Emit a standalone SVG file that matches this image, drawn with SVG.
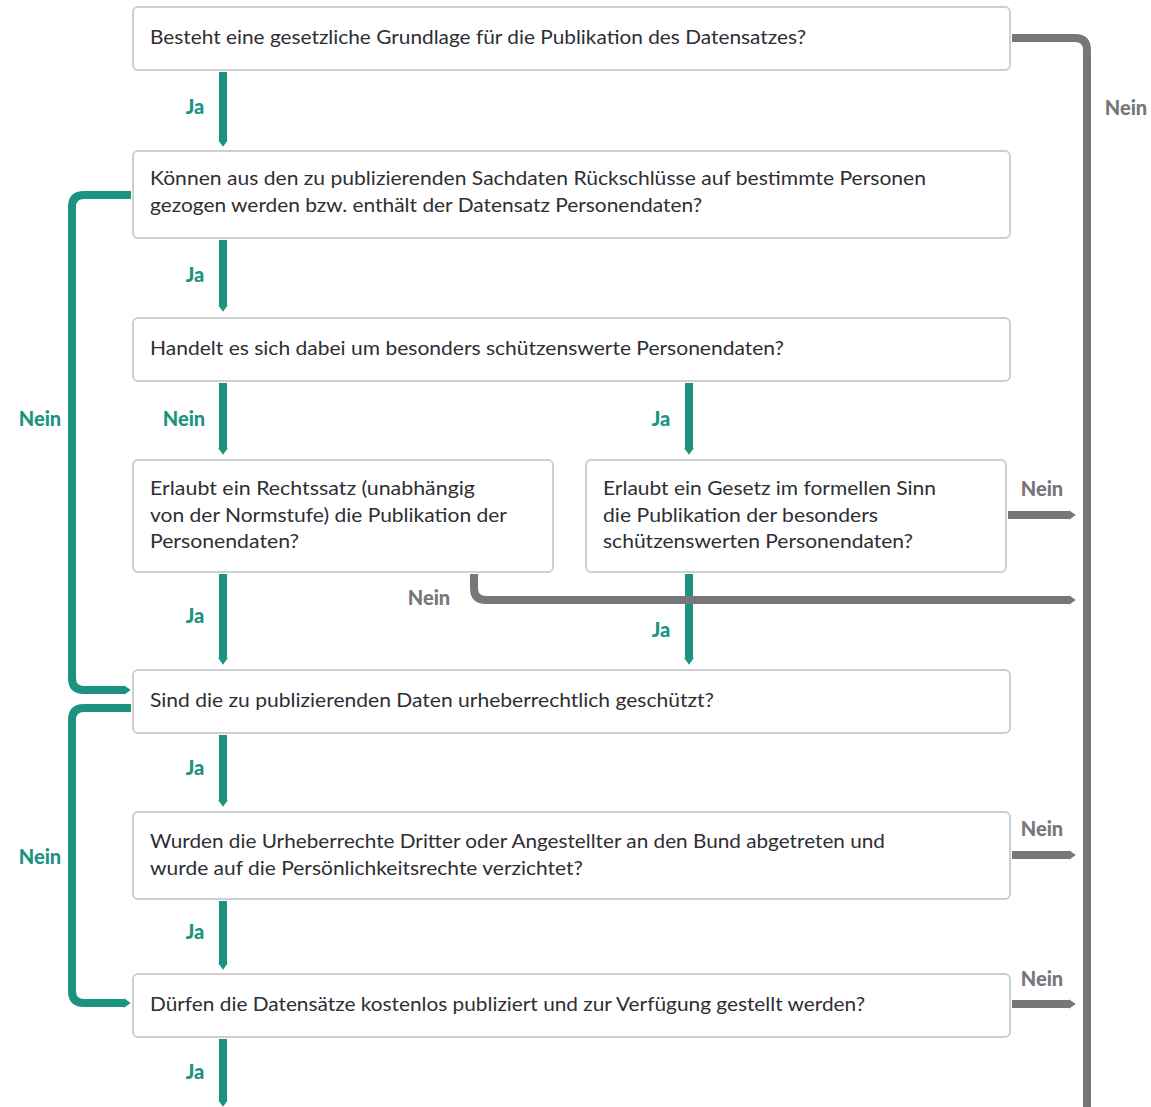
<svg xmlns="http://www.w3.org/2000/svg" width="1151" height="1107" viewBox="0 0 1151 1107">
<defs>
<style>
.box{fill:#fff;stroke:#cfcfcf;stroke-width:2}
.t{font-family:Lato,"Open Sans",sans-serif;font-size:19px;fill:#2e2e33}
.g{fill:none;stroke:#1b9380;stroke-width:8}
.k{fill:none;stroke:#76767b;stroke-width:8}
.lg{font-family:Lato,"Open Sans",sans-serif;font-size:20px;font-weight:900;fill:#1b9380}
.lk{font-family:Lato,"Open Sans",sans-serif;font-size:20px;font-weight:900;fill:#76767b}
</style>
<marker id="ag" viewBox="0 0 7 10" refX="0.2" refY="5" markerWidth="0.875" markerHeight="1.25" orient="auto" markerUnits="strokeWidth"><path d="M0,0 L7,5 L0,10 z" fill="#1b9380"/></marker>
<marker id="ak" viewBox="0 0 7 10" refX="0.2" refY="5" markerWidth="0.875" markerHeight="1.25" orient="auto" markerUnits="strokeWidth"><path d="M0,0 L7,5 L0,10 z" fill="#76767b"/></marker>
</defs>
<rect width="1151" height="1107" fill="#fff"/>
<g id="connectors">
<path class="g" d="M223,72 V140" marker-end="url(#ag)"/>
<path class="g" d="M223,240 V305" marker-end="url(#ag)"/>
<path class="g" d="M223,383 V448" marker-end="url(#ag)"/>
<path class="g" d="M689,383 V448" marker-end="url(#ag)"/>
<path class="g" d="M223,574 V658" marker-end="url(#ag)"/>
<path class="g" d="M689,574 V658" marker-end="url(#ag)"/>
<path class="g" d="M223,735 V800" marker-end="url(#ag)"/>
<path class="g" d="M223,901 V963" marker-end="url(#ag)"/>
<path class="g" d="M223,1039 V1100" marker-end="url(#ag)"/>
<path class="g" d="M131,195 H84 Q72,195 72,207 V678 Q72,690 84,690 H124" marker-end="url(#ag)"/>
<path class="g" d="M131,708 H84 Q72,708 72,720 V991 Q72,1003 84,1003 H124" marker-end="url(#ag)"/>
<path class="k" d="M1012,38 H1075 Q1087,38 1087,50 V1107"/>
<path class="k" d="M474,574 V588 Q474,600 486,600 H1069" marker-end="url(#ak)"/>
<path class="k" d="M1008,515 H1069" marker-end="url(#ak)"/>
<path class="k" d="M1012,855 H1069" marker-end="url(#ak)"/>
<path class="k" d="M1012,1004 H1069" marker-end="url(#ak)"/>
</g>
<g id="labels">
<text class="lg" x="195" y="114" text-anchor="middle">Ja</text>
<text class="lg" x="195" y="282" text-anchor="middle">Ja</text>
<text class="lg" x="184" y="426" text-anchor="middle">Nein</text>
<text class="lg" x="661" y="426" text-anchor="middle">Ja</text>
<text class="lg" x="195" y="623" text-anchor="middle">Ja</text>
<text class="lg" x="661" y="637" text-anchor="middle">Ja</text>
<text class="lg" x="195" y="775" text-anchor="middle">Ja</text>
<text class="lg" x="195" y="939" text-anchor="middle">Ja</text>
<text class="lg" x="195" y="1079" text-anchor="middle">Ja</text>
<text class="lg" x="40" y="426" text-anchor="middle">Nein</text>
<text class="lg" x="40" y="864" text-anchor="middle">Nein</text>
<text class="lk" x="1126" y="115" text-anchor="middle">Nein</text>
<text class="lk" x="429" y="605" text-anchor="middle">Nein</text>
<text class="lk" x="1042" y="496" text-anchor="middle">Nein</text>
<text class="lk" x="1042" y="836" text-anchor="middle">Nein</text>
<text class="lk" x="1042" y="986" text-anchor="middle">Nein</text>
</g>
<g id="n1"><rect class="box" x="133" y="7" width="877" height="63" rx="5"/>
<text class="t" x="150" y="44" textLength="656" lengthAdjust="spacingAndGlyphs">Besteht eine gesetzliche Grundlage für die Publikation des Datensatzes?</text></g>
<g id="n2"><rect class="box" x="133" y="151" width="877" height="87" rx="5"/>
<text class="t" x="150" y="185" textLength="776" lengthAdjust="spacingAndGlyphs">Können aus den zu publizierenden Sachdaten Rückschlüsse auf bestimmte Personen</text>
<text class="t" x="150" y="212" textLength="552" lengthAdjust="spacingAndGlyphs">gezogen werden bzw. enthält der Datensatz Personendaten?</text></g>
<g id="n3"><rect class="box" x="133" y="318" width="877" height="63" rx="5"/>
<text class="t" x="150" y="355" textLength="634" lengthAdjust="spacingAndGlyphs">Handelt es sich dabei um besonders schützenswerte Personendaten?</text></g>
<g id="n4"><rect class="box" x="133" y="460" width="420" height="112" rx="5"/>
<text class="t" x="150" y="495" textLength="325" lengthAdjust="spacingAndGlyphs">Erlaubt ein Rechtssatz (unabhängig</text>
<text class="t" x="150" y="522" textLength="357" lengthAdjust="spacingAndGlyphs">von der Normstufe) die Publikation der</text>
<text class="t" x="150" y="548" textLength="149" lengthAdjust="spacingAndGlyphs">Personendaten?</text></g>
<g id="n5"><rect class="box" x="586" y="460" width="420" height="112" rx="5"/>
<text class="t" x="603" y="495" textLength="333" lengthAdjust="spacingAndGlyphs">Erlaubt ein Gesetz im formellen Sinn</text>
<text class="t" x="603" y="522" textLength="275" lengthAdjust="spacingAndGlyphs">die Publikation der besonders</text>
<text class="t" x="603" y="548" textLength="310" lengthAdjust="spacingAndGlyphs">schützenswerten Personendaten?</text></g>
<g id="n6"><rect class="box" x="133" y="670" width="877" height="63" rx="5"/>
<text class="t" x="150" y="707" textLength="564" lengthAdjust="spacingAndGlyphs">Sind die zu publizierenden Daten urheberrechtlich geschützt?</text></g>
<g id="n7"><rect class="box" x="133" y="812" width="877" height="87" rx="5"/>
<text class="t" x="150" y="848" textLength="735" lengthAdjust="spacingAndGlyphs">Wurden die Urheberrechte Dritter oder Angestellter an den Bund abgetreten und</text>
<text class="t" x="150" y="875" textLength="433" lengthAdjust="spacingAndGlyphs">wurde auf die Persönlichkeitsrechte verzichtet?</text></g>
<g id="n8"><rect class="box" x="133" y="974" width="877" height="63" rx="5"/>
<text class="t" x="150" y="1011" textLength="715" lengthAdjust="spacingAndGlyphs">Dürfen die Datensätze kostenlos publiziert und zur Verfügung gestellt werden?</text></g>
</svg>
